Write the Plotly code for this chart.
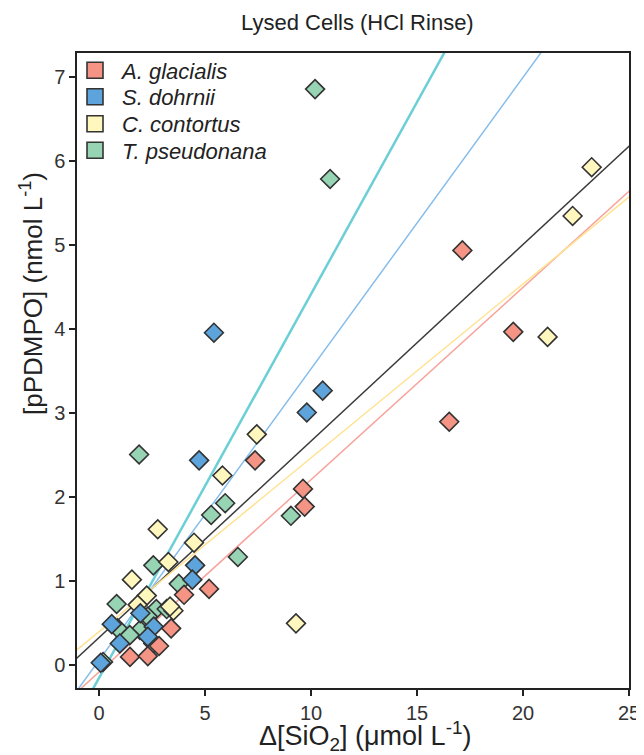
import plotly.graph_objects as go
import numpy as np

species = ["A. glacialis", "S. dohrnii", "C. contortus", "T. pseudonana"]
fill_colors = ["#F59384", "#5DA4DC", "#FFF7BE", "#96D4B4"]
line_colors = ["#F7A39C", "#86BDEB", "#FFE28F", "#6CCFD6"]

ag_x = [17.14, 19.54, 16.52, 7.36, 9.62, 9.70, 5.19, 4.01, 3.40, 1.46, 2.30, 2.83]
ag_y = [4.94, 3.97, 2.90, 2.44, 2.10, 1.89, 0.91, 0.84, 0.44, 0.10, 0.11, 0.23]

sd_x = [5.42, 10.55, 9.80, 4.72, 4.53, 4.40, 0.60, 0.98, 0.08, 2.58, 2.30, 1.95]
sd_y = [3.96, 3.27, 3.01, 2.44, 1.19, 1.02, 0.49, 0.26, 0.03, 0.46, 0.34, 0.62]

cc_x = [23.24, 22.34, 21.16, 7.44, 5.82, 2.77, 4.48, 3.27, 1.55, 2.25, 1.82, 3.51, 9.29, 2.56, 3.35]
cc_y = [5.93, 5.35, 3.91, 2.75, 2.26, 1.62, 1.46, 1.23, 1.02, 0.83, 0.72, 0.65, 0.50, 0.26, 0.70]

tp_x = [10.19, 10.90, 1.89, 5.95, 5.29, 9.05, 6.55, 2.56, 3.76, 0.83, 2.70, 3.19, 2.30, 0.88, 1.93, 1.45, 0.19]
tp_y = [6.86, 5.79, 2.51, 1.93, 1.79, 1.78, 1.29, 1.19, 0.97, 0.73, 0.67, 0.67, 0.58, 0.44, 0.42, 0.36, 0.04]

# regression fits (slope, intercept)
fit_slopes = [0.229, 0.347, 0.207, 0.457]
fit_intercepts = [-0.08, 0.06, 0.40, -0.15]
fit_widths = [1.5, 1.5, 1.5, 2.5]
all_slope = 0.234
all_intercept = 0.33

x_ticks = [0, 5, 10, 15, 20, 25]
y_ticks = [0, 1, 2, 3, 4, 5, 6, 7]

title_text = "Lysed Cells (HCl Rinse)"
x_title = "Δ[SiO<sub>2</sub>] (μmol L<sup>-1</sup>)"
y_title = "[pPDMPO] (nmol L<sup>-1</sup>)"

FONT = "Liberation Sans, Arial, sans-serif"

xs_data = [ag_x, sd_x, cc_x, tp_x]
ys_data = [ag_y, sd_y, cc_y, tp_y]

fig = go.Figure()
xl = np.array([-1.1, 25.1])

fig.add_trace(go.Scatter(x=xl, y=all_slope * xl + all_intercept, mode="lines",
                         line=dict(color="#3a3a3a", width=1.5), showlegend=False, hoverinfo="skip"))
for i in range(4):
    fig.add_trace(go.Scatter(x=xl, y=fit_slopes[i] * xl + fit_intercepts[i], mode="lines",
                             line=dict(color=line_colors[i], width=fit_widths[i]),
                             showlegend=False, hoverinfo="skip"))

for i in [3, 2, 1, 0]:
    fig.add_trace(go.Scatter(x=xs_data[i], y=ys_data[i], mode="markers",
                             marker=dict(symbol="diamond", size=14.5, color=fill_colors[i],
                                         line=dict(color="#333333", width=1.6)),
                             name=species[i], showlegend=False))

legend_names = ["legend", "legend2", "legend3", "legend4"]
for i in range(4):
    fig.add_trace(go.Scatter(x=[None], y=[None], mode="markers",
                             marker=dict(symbol="square", size=17, color=fill_colors[i],
                                         line=dict(color="#333333", width=1.6)),
                             name="<i>" + species[i] + "</i>", legend=legend_names[i]))

axis_common = dict(showline=True, linecolor="#222222", linewidth=1.5, mirror=True,
                   ticks="outside", ticklen=6, tickwidth=1.5, tickcolor="#222222",
                   showgrid=False, zeroline=False, automargin=False,
                   tickfont=dict(family=FONT, size=20, color="#333333"))

# the page body adds an 8px offset; lay out in reference-window pixels
OFF = 8
W, H = 644 - OFF, 755 - OFF
L, R, T, B = 77 - OFF, 644 - 629, 53 - OFF, 755 - 688
pw, ph = W - L - R, H - T - B

def px_to_paper_x(px):
    return (px - OFF - L) / pw

def px_to_paper_y(py):
    return (H - B - (py - OFF)) / ph

legend_common = dict(xanchor="left", yanchor="middle", bgcolor="rgba(0,0,0,0)",
                     font=dict(family=FONT, size=22, color="#222222"),
                     itemsizing="trace", itemwidth=44, borderwidth=0)
legend_rows = [70.5, 97, 124, 150.5]
layout_legends = {}
for i, name in enumerate(legend_names):
    layout_legends[name] = dict(x=px_to_paper_x(68), y=px_to_paper_y(legend_rows[i]), **legend_common)

fig.update_layout(
    width=W, height=H,
    margin=dict(l=L, r=R, t=T, b=B),
    paper_bgcolor="white", plot_bgcolor="white",
    xaxis=dict(range=[-1.04, 25], tickvals=x_ticks, **axis_common),
    yaxis=dict(range=[-0.27, 7.29], tickvals=y_ticks, **axis_common),
    showlegend=True,
    **layout_legends,
)

fig.add_annotation(text=title_text, xref="paper", yref="paper",
                   x=px_to_paper_x(357), y=px_to_paper_y(22), xanchor="center", yanchor="middle",
                   showarrow=False, font=dict(family=FONT, size=22, color="#222222"))
fig.add_annotation(text=x_title, xref="paper", yref="paper",
                   x=px_to_paper_x(365), y=px_to_paper_y(736), xanchor="center", yanchor="middle",
                   showarrow=False, font=dict(family=FONT, size=27, color="#222222"))
fig.add_annotation(text=y_title, xref="paper", yref="paper", textangle=-90,
                   x=px_to_paper_x(31), y=px_to_paper_y(294), xanchor="center", yanchor="middle",
                   showarrow=False, font=dict(family=FONT, size=26, color="#222222"))

fig.write_html("out.html")
